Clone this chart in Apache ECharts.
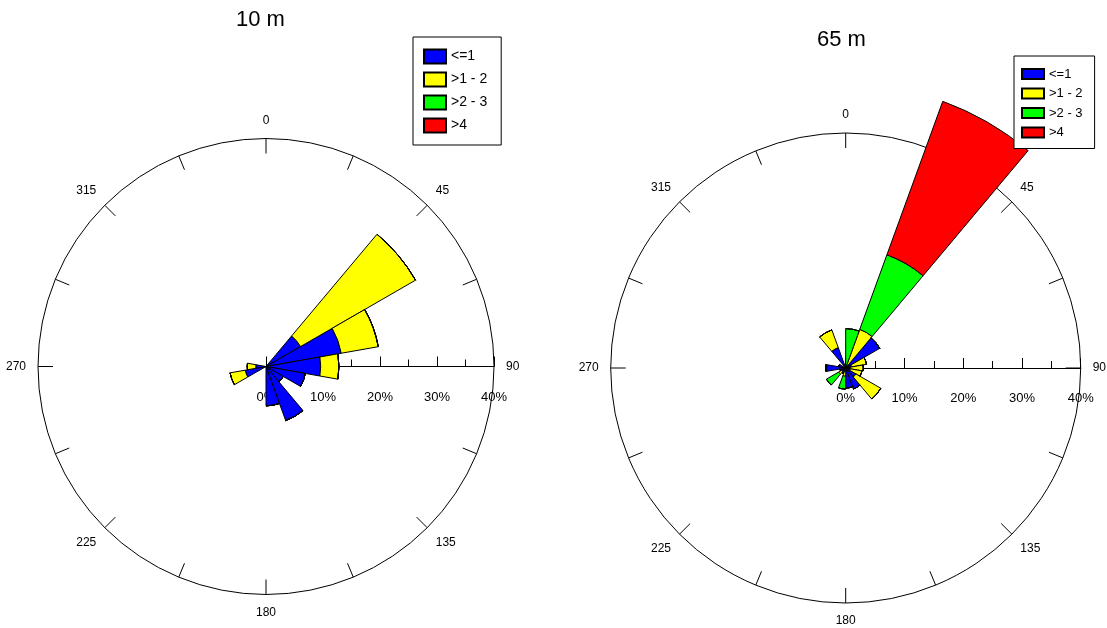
<!DOCTYPE html>
<html>
<head>
<meta charset="utf-8">
<script src="https://cdn.jsdelivr.net/npm/echarts@6/dist/echarts.min.js"></script>
<style>
  html, body { margin: 0; padding: 0; background: #ffffff; }
  #chart { width: 1107px; height: 628px; }
</style>
</head>
<body>
<div id="chart"></div>
<script>
// Direction bins, 20 degrees each, clockwise from north
const sectors = ['0-20', '20-40', '40-60', '60-80', '80-100', '100-120', '120-140', '140-160', '160-180',
                 '180-200', '200-220', '220-240', '240-260', '260-280', '280-300', '300-320', '320-340', '340-360'];

// Wind speed classes and their fill colours
const speedClasses = ['<=1', '>1 - 2', '>2 - 3', '>4'];
const classColors = ['#0000ff', '#ffff00', '#00ff00', '#ff0000'];

// Frequency (%) per direction bin, 10 m height
const low10   = [0, 0, 7.0, 13.4, 9.6, 7.0, 3.5, 10.1, 6.9, 0, 0, 0, 3.7, 1.8, 0, 0, 0, 0];
const mid10   = [0, 0, 23.3, 6.6, 3.2, 0, 0, 0, 0, 0, 0, 0, 2.7, 1.5, 0, 0, 0, 0];
const high10  = [0, 0, 0, 0, 0, 0, 0, 0, 0, 0, 0, 0, 0, 0, 0, 0, 0, 0];
const top10   = [0, 0, 0, 0, 0, 0, 0, 0, 0, 0, 0, 0, 0, 0, 0, 0, 0, 0];

// Frequency (%) per direction bin, 65 m height
const low65   = [0, 0.5, 6.7, 1.0, 0.8, 0.8, 2.0, 3.8, 3.4, 0.6, 1.0, 0.8, 1.0, 3.4, 1.2, 0, 3.7, 0];
const mid65   = [0, 6.5, 0, 2.6, 2.2, 2.0, 4.9, 0, 0, 0.8, 0, 0.6, 0, 0, 0, 0, 3.2, 0];
const high65  = [6.7, 13.5, 0, 0, 0, 0, 0, 0, 0, 2.2, 0, 2.4, 0, 0, 0, 0, 0, 0];
const top65   = [0, 27.8, 0, 0, 0, 0, 0, 0, 0, 0, 0, 0, 0, 0, 0, 0, 0, 0];

// Axis scale (percent) and compass labels
const radiusMax = 40;
const radiusStep = 10;
const compassStep = 22.5;
const compassLabelStep = 45;

const FONT = "'Liberation Sans', Arial, sans-serif";

const roses = [
  { title: '10 m', titleLeft: 236, titleTop: 9, center: [266, 366.5], radius: 228,
    series: [low10, mid10, high10, top10],
    legend: { left: 413, top: 37, padding: [11, 14, 11, 10], itemHeight: 14, itemGap: 6, fontSize: 14, lineHeight: 17 } },
  { title: '65 m', titleLeft: 817, titleTop: 29, center: [845.7, 368], radius: 235,
    series: [low65, mid65, high65, top65],
    legend: { left: 1014, top: 56, padding: [10, 12, 8, 7], itemHeight: 10, itemGap: 3.5, fontSize: 13, lineHeight: 16 } }
];

const option = {
  animation: false,
  backgroundColor: '#ffffff',
  textStyle: { fontFamily: FONT, color: '#000' },
  title: [],
  legend: [],
  polar: [],
  angleAxis: [],
  radiusAxis: [],
  series: []
};

roses.forEach((rose, k) => {
  const axesIdx = 2 * k;      // polar holding the drawn compass and % scale
  const barsIdx = 2 * k + 1;  // polar holding the 20-degree sectors

  option.title.push({
    text: rose.title, left: rose.titleLeft, top: rose.titleTop, padding: 0,
    textStyle: { fontFamily: FONT, fontSize: 22, fontWeight: 'normal', color: '#000' }
  });

  option.legend.push({
    data: speedClasses,
    orient: 'vertical',
    left: rose.legend.left, top: rose.legend.top,
    padding: rose.legend.padding,
    itemWidth: 22, itemHeight: rose.legend.itemHeight, itemGap: rose.legend.itemGap,
    icon: 'rect',
    backgroundColor: '#ffffff', borderColor: '#000', borderWidth: 1, borderRadius: 0,
    selectedMode: false,
    textStyle: { fontFamily: FONT, fontSize: rose.legend.fontSize, lineHeight: rose.legend.lineHeight, color: '#000' }
  });

  option.polar.push({ center: rose.center, radius: rose.radius });
  option.polar.push({ center: rose.center, radius: rose.radius });

  // Compass ring: value 0 points east, so bearing = value + 90
  option.angleAxis.push({
    polarIndex: axesIdx, type: 'value', min: 0, max: 360, interval: compassStep,
    startAngle: 0, clockwise: true, z: 1,
    axisLine: { lineStyle: { color: '#000', width: 1 } },
    axisTick: { inside: true, length: 15, lineStyle: { color: '#000', width: 1 } },
    axisLabel: {
      margin: 12, fontSize: 12, color: '#000', fontFamily: FONT,
      formatter: v => {
        const bearing = (v + 90) % 360;
        return (v < 360 && bearing % compassLabelStep === 0) ? String(bearing) : '';
      }
    },
    splitLine: { show: false }
  });
  option.angleAxis.push({
    polarIndex: barsIdx, type: 'category', data: sectors, startAngle: 90, clockwise: true,
    boundaryGap: true, show: false
  });

  // Percent scale along the east spoke, ticks and labels below it
  option.radiusAxis.push({
    polarIndex: axesIdx, type: 'value', min: 0, max: radiusMax, interval: radiusStep, z: 1,
    axisLine: { lineStyle: { color: '#000', width: 1 } },
    axisTick: { inside: true, length: 10, lineStyle: { color: '#000', width: 1 } },
    minorTick: { show: true, splitNumber: 2, length: 7, lineStyle: { color: '#000', width: 1 } },
    axisLabel: { margin: -24, verticalAlign: 'top', align: 'center', fontSize: 13, color: '#000', fontFamily: FONT, formatter: '{value}%' },
    splitLine: { show: false }, splitArea: { show: false }
  });
  option.radiusAxis.push({
    polarIndex: barsIdx, type: 'value', min: 0, max: radiusMax, show: false
  });

  rose.series.forEach((values, c) => {
    option.series.push({
      type: 'bar', coordinateSystem: 'polar', polarIndex: barsIdx,
      name: speedClasses[c], stack: 'rose' + k, data: values,
      barCategoryGap: '0%', clip: false, z: 2,
      itemStyle: { color: classColors[c], borderColor: '#000', borderWidth: 1 },
      emphasis: { disabled: true }, silent: true
    });
  });
});

const chart = echarts.init(document.getElementById('chart'), null, { renderer: 'canvas' });
chart.setOption(option);
</script>
</body>
</html>
